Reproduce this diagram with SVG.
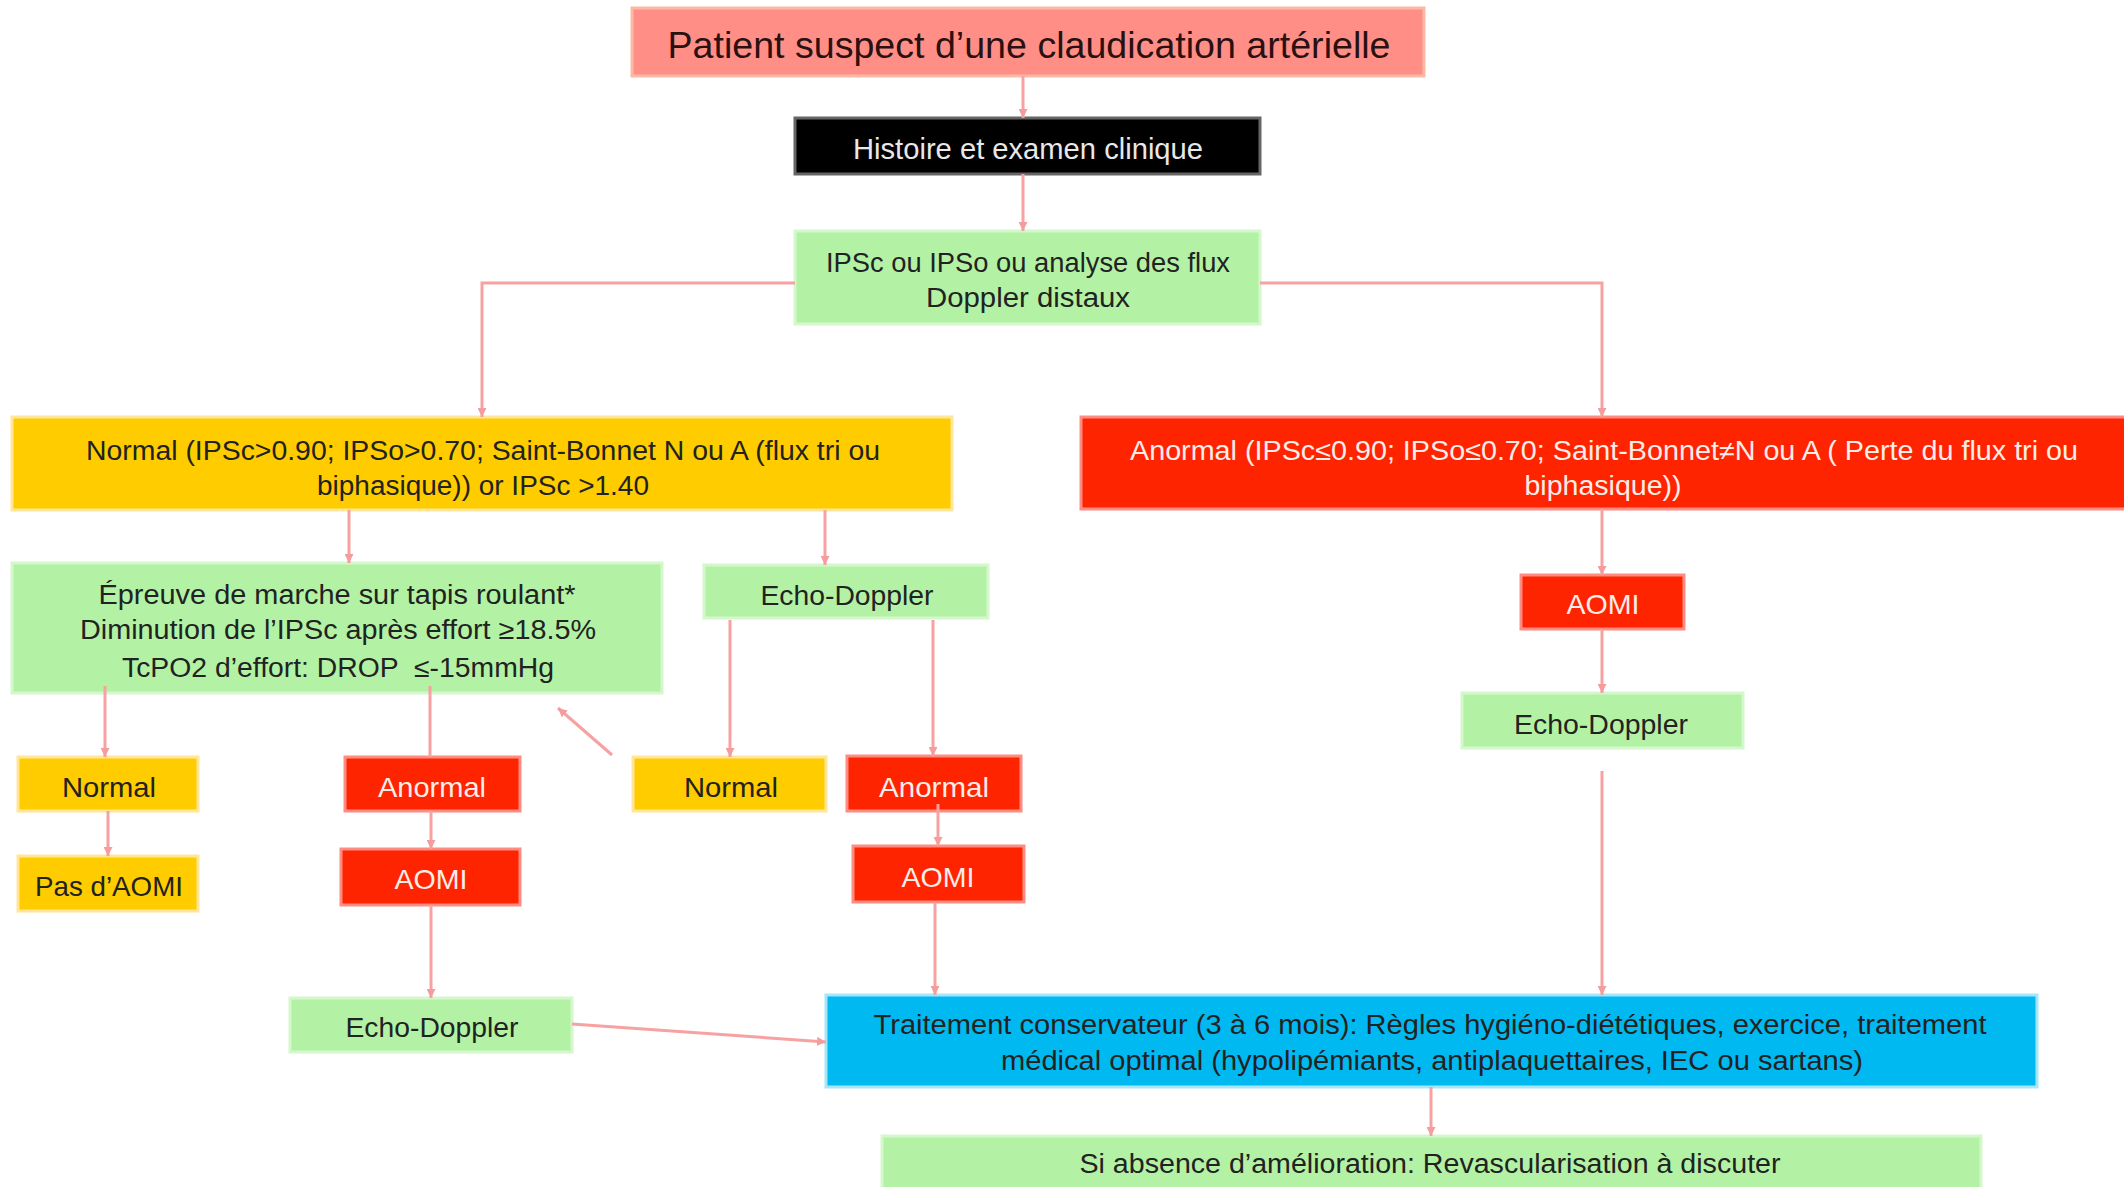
<svg xmlns="http://www.w3.org/2000/svg" width="2124" height="1187" viewBox="0 0 2124 1187">
<style>
text{font-family:"Liberation Sans",Arial,sans-serif;text-anchor:middle}
.t{font-size:27px;fill:#222}
.w{font-size:27px;fill:#FCEDE8}
.s{font-size:28px;fill:#222}
.sw{font-size:28px;fill:#FCEDE8}
.green{fill:#B3F2A4;stroke:#D4F7CB;stroke-width:3}
.yellow{fill:#FFCC00;stroke:#FFE69A;stroke-width:3}
.red{fill:#FF2400;stroke:#FF8C82;stroke-width:3}
.blue{fill:#00B9F0;stroke:#A6E6F9;stroke-width:3}
.conn{fill:none;stroke:#F7A1A1;stroke-width:3}
</style>
<defs>
<marker id="ah" viewBox="0 0 10 10" refX="10" refY="5" markerWidth="9" markerHeight="9" markerUnits="userSpaceOnUse" orient="auto">
<path d="M0,0 L10,5 L0,10 z" fill="#F59C9C"/>
</marker>
</defs>
<rect width="2124" height="1187" fill="#FFFFFF"/>

<g id="n-patient">
<rect x="632" y="8" width="792" height="68" fill="#FF8F86" stroke="#FBB9A4" stroke-width="3"/>
<text x="1029" y="58" style="font-size:36px;fill:#2a1010" textLength="723" lengthAdjust="spacingAndGlyphs">Patient suspect d’une claudication artérielle</text>
</g>
<g id="n-histoire">
<rect x="795" y="118" width="465" height="56" fill="#000000" stroke="#666666" stroke-width="3"/>
<text x="1028" y="159" style="font-size:29px;fill:#E8E8E8" textLength="350" lengthAdjust="spacingAndGlyphs">Histoire et examen clinique</text>
</g>
<g id="n-ipsc">
<rect class="green" x="795" y="231" width="465" height="93"/>
<text class="t" x="1028" y="272" textLength="404" lengthAdjust="spacingAndGlyphs">IPSc ou IPSo ou analyse des flux</text>
<text class="t" x="1028" y="307" textLength="204" lengthAdjust="spacingAndGlyphs">Doppler distaux</text>
</g>
<g id="n-normal-big">
<rect class="yellow" x="12" y="417" width="940" height="93"/>
<text class="t" x="483" y="460" textLength="794" lengthAdjust="spacingAndGlyphs">Normal (IPSc&gt;0.90; IPSo&gt;0.70; Saint-Bonnet N ou A (flux tri ou</text>
<text class="t" x="483" y="495" textLength="332" lengthAdjust="spacingAndGlyphs">biphasique)) or IPSc &gt;1.40</text>
</g>
<g id="n-anormal-big">
<rect class="red" x="1081" y="417" width="1050" height="92"/>
<text class="w" x="1604" y="460" textLength="948" lengthAdjust="spacingAndGlyphs">Anormal (IPSc≤0.90; IPSo≤0.70; Saint-Bonnet≠N ou A ( Perte du flux tri ou</text>
<text class="w" x="1603" y="495" textLength="157" lengthAdjust="spacingAndGlyphs">biphasique))</text>
</g>
<g id="n-epreuve">
<rect class="green" x="12" y="563" width="650" height="130"/>
<text class="t" x="337" y="604" textLength="477" lengthAdjust="spacingAndGlyphs">Épreuve de marche sur tapis roulant*</text>
<text class="t" x="338" y="639" textLength="516" lengthAdjust="spacingAndGlyphs">Diminution de l’IPSc après effort ≥18.5%</text>
<text class="t" x="338" y="677" textLength="432" lengthAdjust="spacingAndGlyphs" xml:space="preserve">TcPO2 d’effort: DROP  ≤-15mmHg</text>
</g>
<g id="n-echo-mid">
<rect class="green" x="704" y="565" width="284" height="53"/>
<text class="s" x="847" y="605" textLength="173" lengthAdjust="spacingAndGlyphs">Echo-Doppler</text>
</g>
<g id="n-normal-left">
<rect class="yellow" x="18" y="757" width="180" height="54"/>
<text class="s" x="109" y="797" textLength="94" lengthAdjust="spacingAndGlyphs">Normal</text>
</g>
<g id="n-pas-aomi">
<rect class="yellow" x="18" y="856" width="180" height="55"/>
<text class="s" x="109" y="896" textLength="148" lengthAdjust="spacingAndGlyphs">Pas d’AOMI</text>
</g>
<g id="n-anormal-left">
<rect class="red" x="345" y="757" width="175" height="54"/>
<text class="sw" x="432" y="797" textLength="108" lengthAdjust="spacingAndGlyphs">Anormal</text>
</g>
<g id="n-aomi-left">
<rect class="red" x="341" y="849" width="179" height="56"/>
<text class="sw" x="431" y="889" textLength="73" lengthAdjust="spacingAndGlyphs">AOMI</text>
</g>
<g id="n-echo-left">
<rect class="green" x="290" y="998" width="282" height="54"/>
<text class="s" x="432" y="1037" textLength="173" lengthAdjust="spacingAndGlyphs">Echo-Doppler</text>
</g>
<g id="n-normal-mid">
<rect class="yellow" x="633" y="757" width="193" height="54"/>
<text class="s" x="731" y="797" textLength="94" lengthAdjust="spacingAndGlyphs">Normal</text>
</g>
<g id="n-anormal-mid">
<rect class="red" x="847" y="756" width="174" height="55"/>
<text class="sw" x="934" y="797" textLength="110" lengthAdjust="spacingAndGlyphs">Anormal</text>
</g>
<g id="n-aomi-mid">
<rect class="red" x="853" y="846" width="171" height="56"/>
<text class="sw" x="938" y="887" textLength="73" lengthAdjust="spacingAndGlyphs">AOMI</text>
</g>
<g id="n-aomi-right">
<rect class="red" x="1521" y="575" width="163" height="54"/>
<text class="sw" x="1603" y="614" textLength="73" lengthAdjust="spacingAndGlyphs">AOMI</text>
</g>
<g id="n-echo-right">
<rect class="green" x="1462" y="693" width="281" height="55"/>
<text class="s" x="1601" y="734" textLength="174" lengthAdjust="spacingAndGlyphs">Echo-Doppler</text>
</g>
<g id="n-traitement">
<rect class="blue" x="826" y="995" width="1211" height="92"/>
<text class="t" x="1430" y="1034" textLength="1113" lengthAdjust="spacingAndGlyphs">Traitement conservateur (3 à 6 mois): Règles hygiéno-diététiques, exercice, traitement</text>
<text class="t" x="1432" y="1070" textLength="862" lengthAdjust="spacingAndGlyphs">médical optimal (hypolipémiants, antiplaquettaires, IEC ou sartans)</text>
</g>
<g id="n-revasc">
<rect class="green" x="882" y="1136" width="1099" height="70"/>
<text class="t" x="1430" y="1173" textLength="701" lengthAdjust="spacingAndGlyphs">Si absence d’amélioration: Revascularisation à discuter</text>
</g>

<g id="connectors">
<path class="conn" d="M1023,76 V118" marker-end="url(#ah)"/>
<path class="conn" d="M1023,174 V231" marker-end="url(#ah)"/>
<path class="conn" d="M795,283 H482 V417" marker-end="url(#ah)"/>
<path class="conn" d="M1260,283 H1602 V417" marker-end="url(#ah)"/>
<path class="conn" d="M349,510 V563" marker-end="url(#ah)"/>
<path class="conn" d="M825,510 V565" marker-end="url(#ah)"/>
<path class="conn" d="M105,686 V757" marker-end="url(#ah)"/>
<path class="conn" d="M430,686 V757"/>
<path class="conn" d="M730,620 V757" marker-end="url(#ah)"/>
<path class="conn" d="M933,620 V756" marker-end="url(#ah)"/>
<path class="conn" d="M612,755 L558,708" marker-end="url(#ah)"/>
<path class="conn" d="M108,811 V856" marker-end="url(#ah)"/>
<path class="conn" d="M431,811 V849" marker-end="url(#ah)"/>
<path class="conn" d="M431,905 V998" marker-end="url(#ah)"/>
<path class="conn" d="M572,1024 L826,1042" marker-end="url(#ah)"/>
<path class="conn" d="M938,804 V846" marker-end="url(#ah)"/>
<path class="conn" d="M935,902 V995" marker-end="url(#ah)"/>
<path class="conn" d="M1602,509 V575" marker-end="url(#ah)"/>
<path class="conn" d="M1602,629 V693" marker-end="url(#ah)"/>
<path class="conn" d="M1602,771 V995" marker-end="url(#ah)"/>
<path class="conn" d="M1431,1087 V1136" marker-end="url(#ah)"/>
</g>
</svg>
